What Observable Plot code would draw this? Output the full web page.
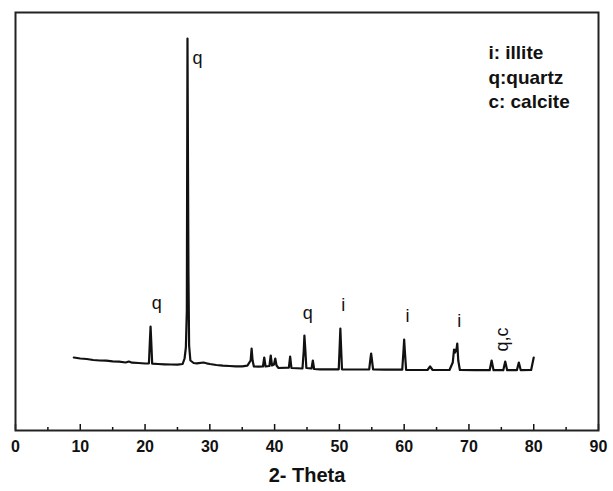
<!DOCTYPE html>
<html>
<head>
<meta charset="utf-8">
<script src="https://cdn.jsdelivr.net/npm/d3@7"></script>
<script src="https://cdn.jsdelivr.net/npm/@observablehq/plot@0.6"></script>
<style>
  html, body { margin: 0; padding: 0; background: #fff; }
  svg { display: block; }
</style>
</head>
<body>
<div id="chart"></div>
<script>
// 2-theta positions (degrees) and diffracted intensity (a.u.)
const theta = [
  9.0, 10.0, 11.0, 12.0, 13.0, 14.0, 15.0, 16.0, 17.0, 17.5, 18.0, 19.0, 20.0,
  20.6, 20.75, 20.85, 20.95, 21.1, 22.0, 23.0, 24.0, 25.0, 25.8, 26.1, 26.3,
  26.45, 26.55, 26.62, 26.7, 26.8, 27.0, 27.5, 28.0, 29.0, 29.5, 30.0, 31.0,
  32.0, 33.0, 34.0, 35.0, 35.8, 36.3, 36.45, 36.6, 36.8, 37.5, 38.2, 38.4, 38.6,
  39.2, 39.4, 39.6, 39.9, 40.1, 40.3, 40.6, 42.2, 42.4, 42.6, 44.3, 44.5, 44.6,
  44.75, 44.9, 45.7, 45.9, 46.1, 47.0, 49.0, 49.9, 50.05, 50.15, 50.25, 50.4,
  52.0, 54.6, 54.8, 54.9, 55.0, 55.2, 57.0, 59.7, 59.9, 60.0, 60.1, 60.3, 62.0,
  63.6, 64.0, 64.4, 67.0, 67.5, 67.7, 67.85, 68.1, 68.2, 68.35, 68.6, 71.0,
  73.2, 73.5, 73.8, 75.3, 75.6, 75.9, 77.4, 77.7, 78.0, 79.6, 80.0
];
const intensity = [
  730, 720, 715, 705, 700, 698, 692, 688, 680, 690, 678, 675, 670,
  672, 900, 1040, 900, 668, 665, 662, 660, 658, 665, 720, 830,
  1200, 3920, 2780, 1570, 850, 700, 675, 672, 680, 672, 665, 655,
  648, 645, 642, 642, 648, 700, 820, 700, 640, 638, 640, 730, 640,
  645, 750, 650, 660, 720, 650, 625, 628, 740, 625, 620, 800, 950,
  800, 625, 620, 700, 615, 612, 612, 612, 850, 1020, 850, 612,
  610, 612, 720, 770, 720, 612, 608, 608, 800, 910, 800, 606, 605,
  605, 640, 605, 605, 680, 810, 780, 820, 870, 700, 605, 603,
  603, 700, 603, 603, 690, 603, 603, 680, 603, 605, 730
];

// phase annotations over the peaks
const peakLabelText = ["q", "q", "q", "i", "i", "i"];
const peakLabelX = [21.8, 28.1, 45.1, 50.6, 60.5, 68.5];
const peakLabelY = [1270, 3720, 1170, 1250, 1140, 1090];
const rotLabelText = ["q,c"];
const rotLabelX = [75.2];
const rotLabelY = [910];

// legend text
const legendLines = ["i: illite", "q:quartz", "c: calcite"];
const legendX = 73.0;
const legendY = 3890;

// axis ticks
const majorTicks = [0, 10, 20, 30, 40, 50, 60, 70, 80, 90];
const minorTicks = [5, 15, 25, 35, 45, 55, 65, 75, 85];
const xTitle = "2- Theta";

const pattern = theta.map((t, i) => ({theta: t, intensity: intensity[i]}));
const peakLabels = peakLabelText.map((s, i) => ({s, x: peakLabelX[i], y: peakLabelY[i]}));
const rotLabels = rotLabelText.map((s, i) => ({s, x: rotLabelX[i], y: rotLabelY[i]}));

const chart = Plot.plot({
  width: 613,
  height: 491,
  marginLeft: 15,
  marginRight: 15,
  marginTop: 12,
  marginBottom: 61,
  style: {fontFamily: "'Liberation Sans', Arial, sans-serif", background: "#fff", color: "#111"},
  x: {domain: [0, 90]},
  y: {domain: [0, 4180], axis: null},
  marks: [
    Plot.line(pattern, {x: "theta", y: "intensity", stroke: "#111", strokeWidth: 2.2, strokeLinejoin: "round"}),
    Plot.axisX({ticks: minorTicks, tickSize: -3, tickFormat: () => "", strokeWidth: 1.5}),
    Plot.axisX({ticks: majorTicks, tickSize: -6, tickPadding: 16, tickFormat: d => String(d),
      fontSize: 16, fontWeight: "bold", strokeWidth: 1.5, label: null}),
    Plot.frame({stroke: "#222", strokeWidth: 2}),
    Plot.text([xTitle], {frameAnchor: "bottom", dy: 51, fontSize: 20, fontWeight: "bold", fill: "#111"}),
    Plot.text(peakLabels, {x: "x", y: "y", text: "s", fontSize: 18, fill: "#111"}),
    Plot.text(rotLabels, {x: "x", y: "y", text: "s", fontSize: 18, rotate: -90, fill: "#111"}),
    Plot.text([legendLines.join("\n")], {x: () => legendX, y: () => legendY, textAnchor: "start", lineAnchor: "top",
      lineHeight: 1.3, fontSize: 19, fontWeight: "bold", fill: "#111"})
  ]
});
document.getElementById("chart").appendChild(chart);
</script>
</body>
</html>
